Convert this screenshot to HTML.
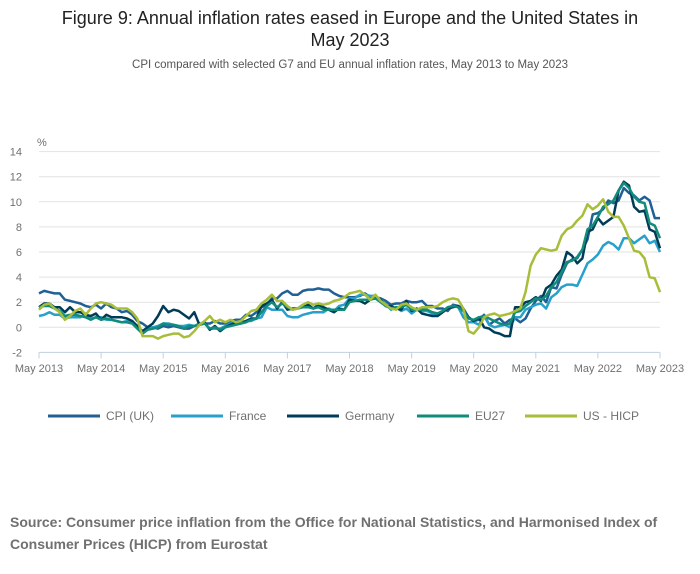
<!DOCTYPE html>
<html><head><meta charset="utf-8">
<style>
body{margin:0;background:#fff;width:700px;height:574px;overflow:hidden;font-family:"Liberation Sans",sans-serif;}
svg{position:absolute;left:0;top:0}
</style></head>
<body>
<svg id="chart" width="700" height="574">
<text x="350" y="24" text-anchor="middle" font-size="18" fill="#222">Figure 9: Annual inflation rates eased in Europe and the United States in</text>
<text x="350" y="46" text-anchor="middle" font-size="18" fill="#222">May 2023</text>
<text x="350" y="68" text-anchor="middle" font-size="11.5" fill="#555">CPI compared with selected G7 and EU annual inflation rates, May 2013 to May 2023</text>
<text x="37" y="146" font-size="11" fill="#707070">%</text>
<g id="grid"></g><g id="series"></g><g id="legend"></g>
<text x="10" y="527" font-size="14" font-weight="bold" fill="#707070">Source: Consumer price inflation from the Office for National Statistics, and Harmonised Index of</text>
<text x="10" y="549" font-size="14" font-weight="bold" fill="#707070">Consumer Prices (HICP) from Eurostat</text>
</svg>
<script>
const yTicks=[14,12,10,8,6,4,2,0,-2];
const xTickLabels=["May 2013","May 2014","May 2015","May 2016","May 2017","May 2018","May 2019","May 2020","May 2021","May 2022","May 2023"];
const seriesNames=["CPI (UK)","France","Germany","EU27","US - HICP"];
const cpiUK=[2.7,2.9,2.8,2.7,2.7,2.2,2.1,2.0,
1.9,1.7,1.6,1.8,1.5,1.9,1.6,1.5,1.2,1.3,1.0,0.5,
0.3,0.0,0.0,-0.1,0.1,0.0,0.1,0.0,-0.1,-0.1,0.1,0.2,
0.3,0.3,0.5,0.3,0.3,0.5,0.6,0.6,1.0,0.9,1.2,1.6,
1.8,2.3,2.3,2.7,2.9,2.6,2.6,2.9,3.0,3.0,3.1,3.0,
3.0,2.7,2.5,2.4,2.4,2.4,2.5,2.7,2.4,2.4,2.3,2.1,
1.8,1.9,1.9,2.1,2.0,2.0,2.1,1.7,1.7,1.5,1.5,1.3,
1.8,1.7,1.5,0.8,0.5,0.6,1.0,0.2,0.5,0.7,0.3,0.6,
0.7,0.4,0.7,1.5,2.1,2.5,2.0,3.2,3.1,4.2,5.1,5.4,
5.5,6.2,7.0,9.0,9.1,9.4,10.1,9.9,10.1,11.1,10.7,10.5,
10.1,10.4,10.1,8.7,8.7];
const france=[0.9,1.0,1.2,1.0,1.0,0.7,0.8,0.8,
0.8,1.1,0.7,0.8,0.8,0.6,0.6,0.5,0.4,0.5,0.4,0.1,
-0.4,0.0,0.0,0.1,0.3,0.3,0.2,0.1,0.1,0.2,0.1,0.3,
0.3,-0.1,-0.1,-0.1,0.1,0.3,0.4,0.4,0.5,0.5,0.7,0.8,
1.6,1.4,1.4,1.4,0.9,0.8,0.8,1.0,1.1,1.2,1.2,1.2,
1.5,1.3,1.7,1.8,2.3,2.3,2.6,2.6,2.5,2.5,2.2,1.9,
1.4,1.6,1.3,1.5,1.1,1.4,1.3,1.3,1.1,0.9,1.2,1.6,
1.7,1.6,0.8,0.4,0.4,0.2,0.9,0.2,0.0,0.1,0.2,0.0,
0.8,0.8,1.4,1.6,1.8,1.9,1.5,2.4,2.7,3.2,3.4,3.4,
3.3,4.2,5.1,5.4,5.8,6.5,6.8,6.6,6.2,7.1,7.1,6.7,
7.0,7.3,6.7,6.9,6.0];
const germany=[1.6,1.9,1.9,1.6,1.6,1.2,1.6,1.2,
1.2,1.0,0.9,1.1,0.6,1.0,0.8,0.8,0.8,0.7,0.5,0.1,
-0.3,0.0,0.3,0.9,1.7,1.2,1.4,1.3,1.0,0.7,1.2,0.2,
0.4,-0.2,0.1,-0.3,0.0,0.2,0.4,0.3,0.5,0.7,0.7,1.7,
1.9,2.2,1.5,2.0,1.4,1.5,1.5,1.8,1.8,1.5,1.8,1.6,
1.4,1.2,1.5,1.4,2.2,2.1,2.1,1.9,2.2,2.4,2.2,1.7,
1.7,1.5,1.4,2.1,1.3,1.5,1.1,1.0,0.9,0.9,1.2,1.5,
1.6,1.7,1.3,0.8,0.5,0.8,0.0,-0.1,-0.4,-0.5,-0.7,-0.7,
1.6,1.6,2.0,2.1,2.4,2.1,3.1,3.4,4.1,4.6,6.0,5.7,
5.1,5.5,7.6,7.8,8.7,8.2,8.5,8.8,10.9,11.6,11.3,9.6,
9.2,9.3,7.8,7.6,6.3];
const eu27=[1.6,1.7,1.7,1.5,1.3,0.9,1.0,1.0,
0.9,0.8,0.6,0.8,0.6,0.7,0.6,0.5,0.4,0.4,0.3,-0.1,
-0.5,-0.2,-0.1,0.0,0.3,0.2,0.2,0.1,-0.1,0.1,0.1,0.2,
0.3,-0.1,0.0,-0.2,0.0,0.1,0.2,0.3,0.4,0.6,0.7,1.2,
1.7,2.0,1.6,1.9,1.6,1.4,1.5,1.6,1.6,1.5,1.6,1.4,
1.4,1.4,1.4,1.4,2.0,2.1,2.2,2.2,2.2,2.3,2.0,1.7,
1.5,1.6,1.6,1.8,1.4,1.4,1.4,1.4,1.2,1.1,1.3,1.6,
1.7,1.6,1.3,0.7,0.6,0.8,0.9,0.7,0.5,0.3,0.2,0.3,
1.2,1.3,1.7,2.0,2.3,2.2,2.5,3.2,3.6,4.4,5.2,5.3,
5.6,6.2,7.8,8.1,8.8,9.6,9.8,10.1,10.9,11.5,11.1,10.4,
10.0,9.9,8.3,8.1,7.1];
const usHicp=[1.4,1.8,1.9,1.5,1.2,0.6,0.9,1.3,
1.5,1.0,1.5,1.9,2.0,1.9,1.8,1.5,1.5,1.5,1.2,0.7,
-0.7,-0.7,-0.7,-0.9,-0.7,-0.6,-0.5,-0.5,-0.8,-0.7,-0.3,0.2,
0.5,0.9,0.4,0.6,0.4,0.6,0.4,0.5,0.9,1.3,1.4,1.9,
2.2,2.6,2.1,2.1,1.7,1.4,1.5,1.8,2.0,1.8,1.9,1.8,
1.9,2.1,2.2,2.4,2.7,2.8,2.9,2.6,2.2,2.6,2.1,1.8,
1.5,1.4,1.8,1.9,1.6,1.4,1.6,1.6,1.6,1.7,2.0,2.2,
2.3,2.2,1.5,-0.3,-0.5,0.0,0.8,1.0,1.1,0.9,1.0,1.1,
1.3,1.5,2.8,4.9,5.8,6.3,6.2,6.1,6.2,7.3,7.8,8.0,
8.5,8.9,9.8,9.4,9.7,10.2,9.2,8.8,8.8,8.1,7.1,6.1,
6.0,5.5,4.0,3.9,2.8];
const allSeries=[cpiUK,france,germany,eu27,usHicp];
const colors=["#206095","#27a0cc","#003c57","#118c7b","#a8bd3a"];
const keys=["cpi-uk","france","germany","eu27","us-hicp"];
const NS="http://www.w3.org/2000/svg";
const X0=39,X1=660,Y0=327.3,PERU=12.55;
const xS=i=>X0+(X1-X0)*i/120;
const yS=v=>Y0-v*PERU;
function mk(t,a,p){const e=document.createElementNS(NS,t);for(const k in a)e.setAttribute(k,a[k]);p.appendChild(e);return e;}
const grid=document.getElementById('grid');
yTicks.forEach(v=>{
  const l=mk('line',{x1:X0,x2:X1,y1:yS(v),y2:yS(v),stroke:v===-2?'#c3cfe2':'#e2e2e2','stroke-width':1},grid);
  
  
  const t=mk('text',{x:22,y:yS(v)+4,'text-anchor':'end','font-size':11,fill:'#707070'},grid);
  t.textContent=v;
  
  
});
xTickLabels.forEach((s,i)=>{
  const x=xS(i*12);
  const l=mk('line',{x1:x,x2:x,y1:yS(-2),y2:yS(-2)+6,stroke:'#c3cfe2','stroke-width':1},grid);
  
  
  const t=mk('text',{x:x,y:372,'text-anchor':'middle','font-size':11,fill:'#707070'},grid);
  t.textContent=s;
  
  
});
const sg=document.getElementById('series');
allSeries.forEach((arr,k)=>{
  const d=arr.map((v,i)=>(i?'L':'M')+xS(i).toFixed(1)+','+yS(v).toFixed(1)).join('');
  const p=mk('path',{d:d,fill:'none',stroke:colors[k],'stroke-width':2.5,'stroke-linejoin':'round'},sg);
  
  
});
const lg=document.getElementById('legend');
const lx=[48,171,287,417,525];
seriesNames.forEach((n,k)=>{
  const g=mk('g',{},lg);
  
  
  mk('line',{x1:lx[k],x2:lx[k]+52,y1:416,y2:416,stroke:colors[k],'stroke-width':3},g);
  const t=mk('text',{x:lx[k]+58,y:420,'font-size':12,fill:'#707070'},g);
  t.textContent=n;
});
</script>
</body></html>
